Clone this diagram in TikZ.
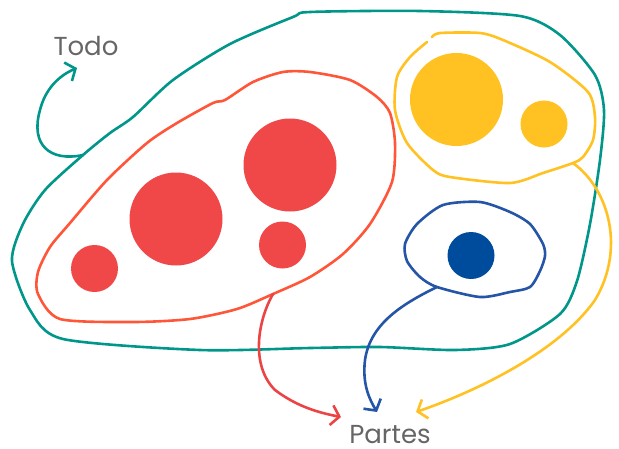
\documentclass[tikz,border=0pt]{standalone}
\usepackage{fontspec}
\setmainfont{Poppins}
\usetikzlibrary{arrows.meta}
\definecolor{tealc}{HTML}{00968A}
\definecolor{redline}{HTML}{FF5538}
\definecolor{redfill}{HTML}{F04848}
\definecolor{redarrow}{HTML}{EC4444}
\definecolor{yel}{HTML}{FFC222}
\definecolor{blueline}{HTML}{2455A6}
\definecolor{bluefill}{HTML}{004C9C}
\definecolor{txt}{HTML}{666666}
\tikzset{
  loopline/.style={line width=2.6pt, line join=round, line cap=round},
  barb/.style={-{Straight Barb[length=8pt,width=20pt,line width=2.6pt]}},
  label/.style={text=txt, font=\fontsize{26}{30}\selectfont, inner sep=0pt},
}
\begin{document}
\begin{tikzpicture}[x=1pt,y=-1pt]
\useasboundingbox (0,0) rectangle (619,448);

% labels
\node[label, anchor=base] (todo) at (86,55) {Todo};
\node[label, anchor=base] (partes) at (390,443) {Partes};

% teal outer loop
\draw[loopline, tealc] plot[smooth cycle, tension=0.45] coordinates {
 (310,12) (420,11) (520,16) (560,35) (595,75) (604,110) (600,160) (590,224)
 (577,281) (560,314) (510,344) (455,350) (380,347) (310,348) (200,350)
 (63,339) (30,310) (12,261) (23,224) (45,190) (83,155) (110,133) (133,117)
 (173,80) (230,44) (293,17)};
\coordinate (tealstart) at (83,155);
\coordinate (tealend) at (77,68);
\draw[loopline, tealc, barb] (tealstart) .. controls (50,162) and (30,145) .. (40,110)
  .. controls (45,90) and (58,76) .. (tealend);

% red loop
\draw[loopline, redline] plot[smooth cycle, tension=0.45] coordinates {
 (310,72) (350,80) (377,97) (390,113) (395,143) (392,182) (370,224) (343,254)
 (310,277) (273,294) (237,309) (190,319) (133,322) (60,319) (38,294) (38,272)
 (50,247) (70,223) (107,180) (147,143) (177,123) (213,103) (225,100) (253,82) (283,72)};
\fill[redfill] (176,219) circle (46.5);
\fill[redfill] (290,165) circle (46.5);
\fill[redfill] (94.5,268.5) circle (23.5);
\fill[redfill] (282.5,245) circle (23.5);
\coordinate (redstart) at (273,294);
\coordinate (redend) at (341,417);
\draw[loopline, redarrow, barb] (redstart) .. controls (258,320) and (250,365) .. (275,390)
  .. controls (295,405) and (315,412) .. (redend);

% yellow loop
\draw[loopline, yel] plot[smooth, tension=0.45] coordinates {
 (432,37) (440,33) (480,33) (503,40) (550,62) (588,92) (595,117) (593,140)
 (583,157) (573,163) (543,173) (510,183) (450,177) (433,170) (407,143)
 (395,110) (397,77) (410,57) (427,42)};
\fill[yel] (456.5,99.5) circle (46.5);
\fill[yel] (544,124) circle (23.5);
\coordinate (yelstart) at (573,163);
\coordinate (yelend) at (416,412);
\draw[loopline, yel, barb] (yelstart) .. controls (610,190) and (625,250) .. (595,300)
  .. controls (560,350) and (480,390) .. (yelend);

% blue loop
\draw[loopline, blueline] plot[smooth cycle, tension=0.45] coordinates {
 (443,205) (480,202) (510,212) (530,224) (543,244) (545,256) (540,271)
 (530,287) (510,292) (480,297) (437,287) (420,277) (407,261) (405,244) (417,224)};
\fill[bluefill] (471,255.5) circle (23.5);
\coordinate (bluestart) at (437,287);
\coordinate (blueend) at (377,412);
\draw[loopline, blueline, barb] (bluestart) .. controls (400,305) and (370,325) .. (365,360)
  .. controls (362,385) and (370,400) .. (blueend);
\end{tikzpicture}
\end{document}
